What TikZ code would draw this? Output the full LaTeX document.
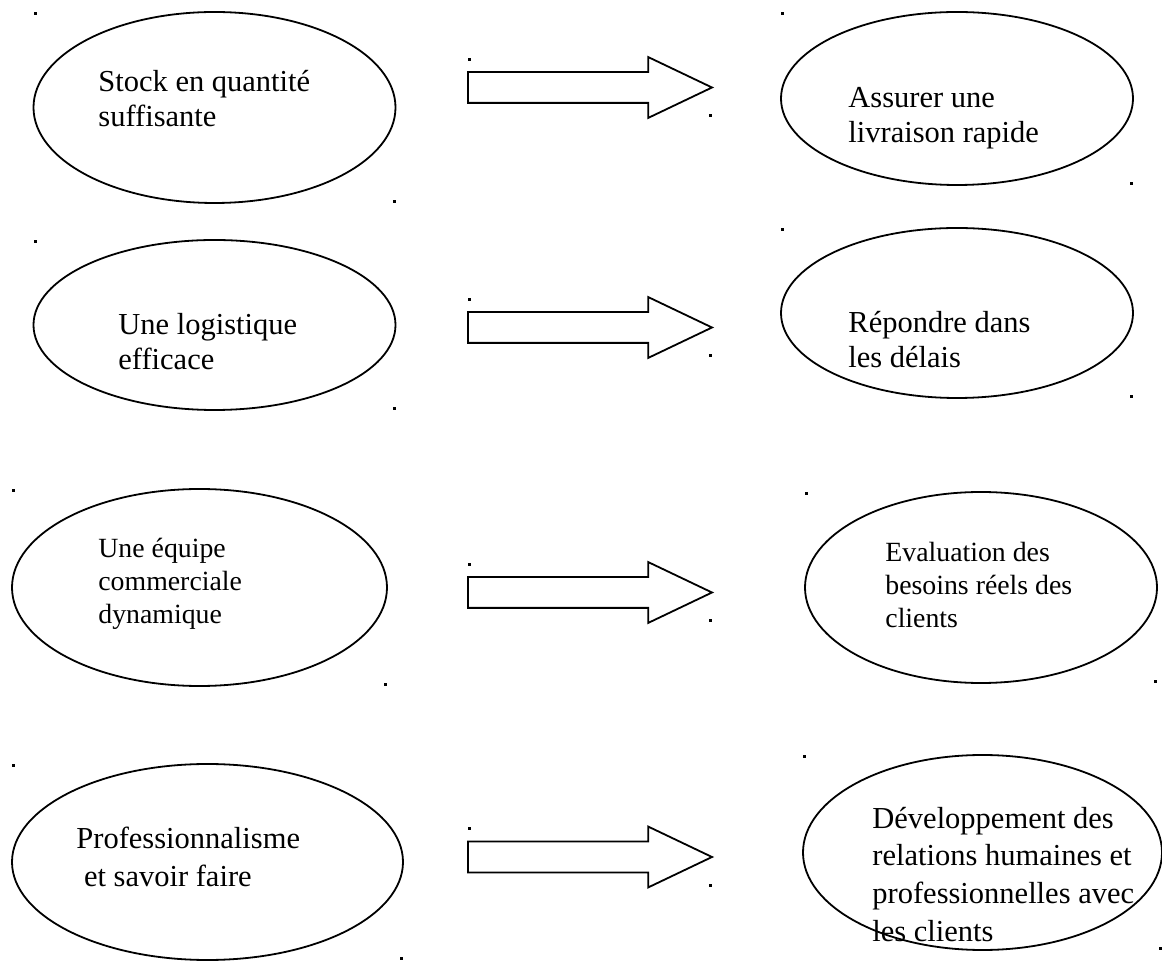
\documentclass[tikz,border=0pt]{standalone}
\usepackage{fontspec}
\setmainfont{Liberation Serif}
\usetikzlibrary{shapes.geometric, shapes.arrows, positioning, calc}

\begin{document}
\begin{tikzpicture}[
    x=0.5pt, y=-0.5pt,
    bubble/.style={
        ellipse, draw=black, line width=0.9pt,
        inner sep=0pt, outer sep=0pt},
    blockarr/.style={
        single arrow, draw=black, line width=0.9pt,
        minimum height=122pt, inner xsep=0pt, inner ysep=7.25pt,
        single arrow head extend=7.5pt, single arrow tip angle=51,
        outer sep=0pt, anchor=tail},
    lbl/.style={
        anchor=base west, align=left, inner sep=0pt,
        font=\fontsize{15.25}{17.5}\selectfont},
    smalllbl/.style={lbl, font=\fontsize{13.9}{16.5}\selectfont},
    widelbl/.style={lbl, font=\fontsize{15.25}{18.8}\selectfont}]

\useasboundingbox[fill=white] (0,0) rectangle (1162,961);

% Left column: the means
\node[bubble, minimum width=181pt, minimum height=95.5pt]   (stock)   at (214.5,107.5){};
\node[bubble, minimum width=181pt, minimum height=85pt]     (logist)  at (214.5,325)  {};
\node[bubble, minimum width=187.5pt, minimum height=98.5pt] (equipe)  at (199.5,587.5){};
\node[bubble, minimum width=195.5pt, minimum height=98pt]   (prof)    at (207.5,862)  {};

% Right column: the results
\node[bubble, minimum width=176pt, minimum height=86.5pt]   (livr)    at (957,98.5)   {};
\node[bubble, minimum width=176pt, minimum height=85pt]     (delais)  at (957,313)    {};
\node[bubble, minimum width=176pt, minimum height=95.5pt]   (besoins) at (981,587.5)  {};
\node[bubble, minimum width=179.5pt, minimum height=97.5pt] (relat)   at (982.5,852.5){};

% Texts (anchored on the baseline of their last line)
\node[lbl]      (stocktxt)   at (98,127)  {Stock en quantité\\suffisante};
\node[lbl]      (logisttxt)  at (118,370) {Une logistique\\efficace};
\node[smalllbl] (equipetxt)  at (98,624)  {Une équipe\\commerciale\\dynamique};
\node[widelbl]  (proftxt)    at (76,886)  {Professionnalisme\\\ et savoir faire};
\node[lbl]      (livrtxt)    at (848,143) {Assurer une\\livraison rapide};
\node[lbl]      (delaistxt)  at (848,368) {Répondre dans\\les délais};
\node[smalllbl] (besoinstxt) at (885,628) {Evaluation des\\besoins réels des\\clients};
\node[widelbl]  (relattxt)   at (872,941) {Développement des\\relations humaines et\\professionnelles avec\\les clients};

% Block arrows
\node[blockarr] (arrA) at (468,87.5)  {};
\node[blockarr] (arrB) at (468,327.5) {};
\node[blockarr] (arrC) at (468,592.5) {};
\node[blockarr] (arrD) at (468,857)   {};

% Corner marks of the boxes
\foreach \n in {stock,logist,equipe,prof,livr,delais,besoins,relat}{
    \fill (\n.west |- \n.north) rectangle ++(3,3);
    \fill (\n.east |- \n.south) rectangle ++(-3,-3);
}
\foreach \n in {arrA,arrB,arrC,arrD}{
    \fill ($(\n.tail)+(0,-29.5)$) rectangle ++(3,3);
    \fill ($(\n.tip)+(0,29.5)$) rectangle ++(-3,-3);
}

\end{tikzpicture}
\end{document}
